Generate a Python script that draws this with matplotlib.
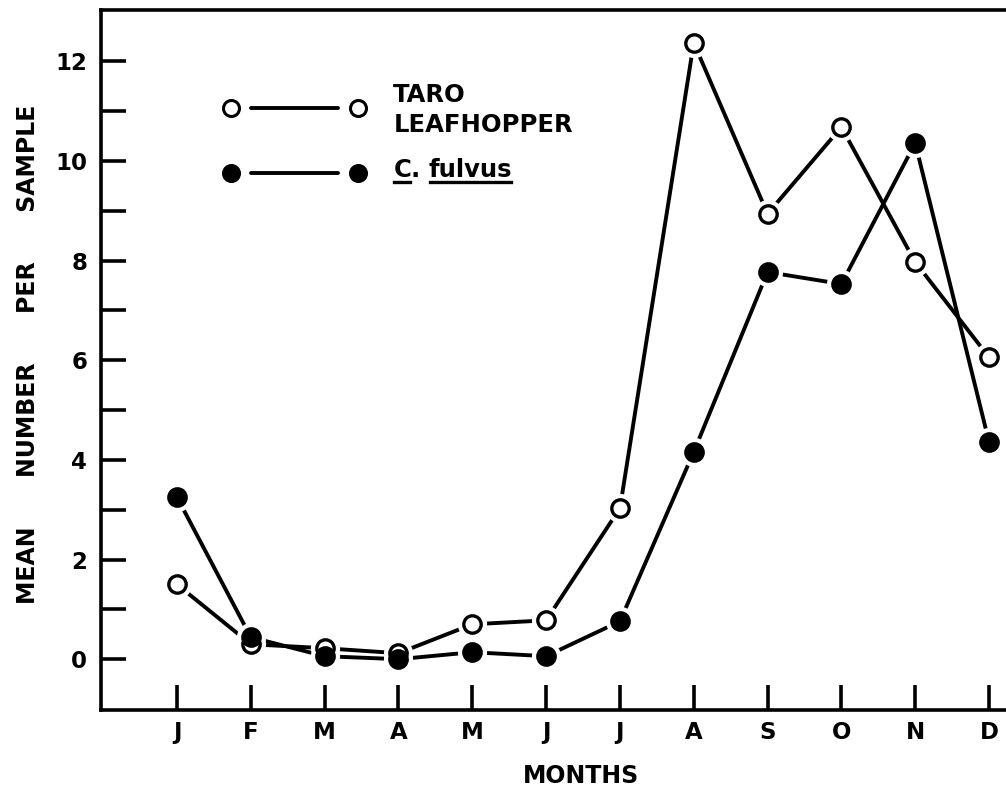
import numpy as np
import matplotlib
matplotlib.use("Agg")
import matplotlib.pyplot as plt

# === data ===
months = ["J", "F", "M", "A", "M", "J", "J", "A", "S", "O", "N", "D"]
taro_leafhopper = [1.5, 0.3, 0.22, 0.12, 0.7, 0.78, 3.03, 12.37, 8.94, 10.68, 7.97, 6.06]
c_fulvus = [3.25, 0.44, 0.06, 0.0, 0.14, 0.06, 0.76, 4.16, 7.77, 7.53, 10.36, 4.36]

plt.rcParams['font.family'] = ['DejaVu Sans']
plt.rcParams['font.weight'] = 'bold'

fig = plt.figure(figsize=(10.06, 7.88), dpi=100)
ax = fig.add_axes([101 / 1006, 78 / 788, 905 / 1006, 700 / 788])

x = np.arange(len(months))
lw = 2.8


def draw_series(xs, ys, filled):
    # line, white halo so segments stop short of the markers, then the marker
    ax.plot(xs, ys, color='black', lw=lw, solid_capstyle='round', zorder=2)
    ax.plot(xs, ys, ls='none', marker='o', ms=21, mfc='white', mec='none', zorder=3)
    ax.plot(xs, ys, ls='none', marker='o', ms=12.5,
            mfc='black' if filled else 'white', mec='black', mew=2.4, zorder=4)


draw_series(x, taro_leafhopper, filled=False)
draw_series(x, c_fulvus, filled=True)

ax.set_xlim(-1.03, 11.23)
ax.set_ylim(-1.02, 13.03)

ax.set_xticks(x)
ax.set_xticklabels(months)
ax.set_yticks(np.arange(0, 13, 2))
ax.set_yticks(np.arange(1, 13, 2), minor=True)
ax.tick_params(axis='both', which='both', direction='in', length=18, width=2.6,
               labelsize=16.5)
ax.tick_params(axis='x', pad=8)
ax.tick_params(axis='y', pad=10)

for side in ['left', 'bottom', 'top']:
    ax.spines[side].set_linewidth(2.6)
ax.spines['right'].set_visible(False)

ylab = "      ".join(["MEAN", "NUMBER", "PER", "SAMPLE"])
fig.text(28 / 1006, 1 - 354 / 788, ylab,
         rotation=90, ha='center', va='center', fontsize=17, fontweight='bold')
fig.text(581 / 1006, 1 - 776 / 788, "MONTHS", ha='center', va='center',
         fontsize=17, fontweight='bold')

# === legend, drawn by hand ===
tr = ax.transAxes
for yy, filled in [(0.860, False), (0.767, True)]:
    ax.plot([0.166, 0.262], [yy, yy], color='black', lw=lw, transform=tr,
            solid_capstyle='round', zorder=2)
    ax.plot([0.1436, 0.284], [yy, yy], ls='none', marker='o', ms=11.5,
            mfc='black' if filled else 'white', mec='black', mew=2.2,
            transform=tr, zorder=4)

fs_leg = 17.5
ax.text(0.323, 0.8686, "TARO", transform=tr, ha='left', va='baseline',
        fontsize=fs_leg, fontweight='bold')
ax.text(0.323, 0.8257, "LEAFHOPPER", transform=tr, ha='left', va='baseline',
        fontsize=fs_leg, fontweight='bold')

fig.canvas.draw()
renderer = fig.canvas.get_renderer()
inv = tr.inverted()
ly = 0.7614
t_c = ax.text(0.323, ly, "C", transform=tr, ha='left', va='baseline',
              fontsize=fs_leg, fontweight='bold')
bb_c = t_c.get_window_extent(renderer)
x_dot = inv.transform((bb_c.x1, 0))[0]
t_dot = ax.text(x_dot, ly, ". ", transform=tr, ha='left', va='baseline',
                fontsize=fs_leg, fontweight='bold')
bb_dot = t_dot.get_window_extent(renderer)
x_ful = inv.transform((bb_dot.x1, 0))[0]
t_ful = ax.text(x_ful, ly, "fulvus", transform=tr, ha='left', va='baseline',
                fontsize=fs_leg, fontweight='bold')
bb_ful = t_ful.get_window_extent(renderer)

y_line = ly - 5 / 700
for bb in [bb_c, bb_ful]:
    x0 = inv.transform((bb.x0 + 1, 0))[0]
    x1 = inv.transform((bb.x1 - 1, 0))[0]
    ax.plot([x0, x1], [y_line, y_line], color='black', lw=2.4, transform=tr)

fig.savefig("out.png", dpi=100)
